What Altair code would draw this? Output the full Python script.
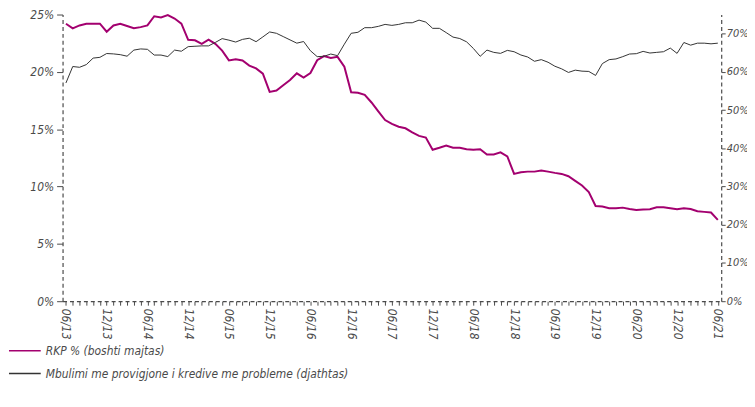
import altair as alt
import pandas as pd

# RKP % (left axis), monthly 06/2013 - 06/2021
rkp = [24.2, 23.8, 24.05, 24.2, 24.2, 24.2, 23.5, 24.05, 24.2, 24.0, 23.8, 23.9, 24.05, 24.85, 24.75,
       24.95, 24.65, 24.2, 22.8, 22.75, 22.45, 22.8, 22.45, 21.85, 21.0, 21.1, 21.0, 20.55, 20.3,
       19.85, 18.25, 18.37, 18.83, 19.29, 19.87, 19.5, 19.9, 21.02, 21.37, 21.22, 21.31, 20.45, 18.22,
       18.17, 17.99,
       17.33, 16.55, 15.80, 15.46, 15.22, 15.08, 14.73, 14.42, 14.27, 13.21, 13.38, 13.58, 13.38, 13.38,
       13.26, 13.21, 13.26, 12.80, 12.80, 12.98, 12.63,
       11.1, 11.25, 11.30, 11.30, 11.39, 11.30, 11.19, 11.10, 10.90, 10.50, 10.09, 9.52, 8.30, 8.25,
       8.10, 8.10, 8.16, 8.04, 7.96, 7.99, 8.02, 8.19, 8.19, 8.10, 8.02, 8.10, 8.04, 7.84, 7.79, 7.73, 7.09]

# Coverage with provisions of NPLs (right axis)
mbulimi = [57.1, 61.4, 61.2, 61.9, 63.6, 63.8, 64.8, 64.7, 64.5, 64.1, 65.7, 66.0, 65.9, 64.4, 64.4,
           64.0, 65.7, 65.4, 66.6, 66.7, 66.8, 66.8, 67.7, 68.7, 68.3, 67.8, 68.5, 68.8, 67.9,
           69.15, 70.44, 70.09, 69.23, 68.37, 67.51, 67.94, 65.53, 63.98, 64.07, 64.67, 64.24, 67.25,
           70.09, 70.35, 71.56, 71.56, 71.90, 72.42, 72.16, 72.42, 72.85, 72.85, 73.54, 73.02, 71.39,
           71.39, 70.27,
           69.1, 68.72, 67.86, 66.13, 64.07, 65.70, 65.10, 64.84, 65.62, 65.27, 64.41, 63.89, 62.77,
           63.20, 62.52, 61.48, 60.79, 59.85, 60.45, 60.19, 60.11, 59.07, 62.17, 63.20, 63.38, 63.98,
           64.67, 64.76, 65.36, 64.93, 65.10, 65.27, 66.22, 64.84, 67.68, 66.99, 67.51, 67.51, 67.34,
           67.51]

tick_labels = ["06/13", "12/13", "06/14", "12/14", "06/15", "12/15", "06/16", "12/16", "06/17",
               "12/17", "06/18", "12/18", "06/19", "12/19", "06/20", "12/20", "06/21"]

series_names = ["RKP % (boshti majtas)",
                "Mbulimi me provigjone i kredive me probleme (djathtas)"]
series_colors = ["#A3006F", "#333333"]
series_widths = [2.0, 1.0]

n = len(rkp)
df = pd.DataFrame({
    "i": list(range(n)) * 2,
    "value": rkp + mbulimi,
    "series": [series_names[0]] * n + [series_names[1]] * n,
})

FONT = "Liberation Sans Narrow, DejaVu Sans Condensed, sans-serif"
GREY = "#4a4a4a"

labels_js = "[" + ",".join("'" + t + "'" for t in tick_labels) + "]"

x_enc = alt.X(
    "i:Q",
    scale=alt.Scale(domain=[-0.5, n - 0.5], nice=False, zero=False),
    axis=alt.Axis(
        values=list(range(n)),
        labelExpr=f"datum.value % 6 == 0 ? {labels_js}[datum.value / 6] : ''",
        labelAngle=90, labelAlign="left", labelBaseline="middle",
        labelOverlap=False, labelPadding=3, tickSize=4, tickColor=GREY,
        domainDash=[4, 3], domainColor=GREY, domainWidth=1.2,
        grid=False, title=None,
    ),
)

color_enc = alt.Color(
    "series:N",
    scale=alt.Scale(domain=series_names, range=series_colors),
    legend=alt.Legend(
        title=None, orient="none", legendX=-55, legendY=322,
        symbolType="stroke", symbolSize=1024, symbolStrokeWidth=1.5,
        labelFontSize=12, labelFont=FONT, labelFontStyle="italic", labelColor=GREY,
        labelLimit=400, rowPadding=-2, padding=0,
    ),
)

left = alt.Chart(df).transform_filter(
    alt.datum.series == series_names[0]
).mark_line(strokeWidth=series_widths[0]).encode(
    x=x_enc,
    y=alt.Y(
        "value:Q",
        scale=alt.Scale(domain=[0, 25], nice=False),
        axis=alt.Axis(
            values=[0, 5, 10, 15, 20, 25], labelExpr="datum.value + '%'",
            orient="left", grid=False, title=None, tickSize=6, tickColor=GREY,
            labelPadding=3, domainDash=[4, 3], domainColor=GREY, domainWidth=1.2,
        ),
    ),
    color=color_enc,
)

right = alt.Chart(df).transform_filter(
    alt.datum.series == series_names[1]
).mark_line(strokeWidth=series_widths[1]).encode(
    x=x_enc,
    y=alt.Y(
        "value:Q",
        scale=alt.Scale(domain=[0, 75], nice=False),
        axis=alt.Axis(
            values=[0, 10, 20, 30, 40, 50, 60, 70], labelExpr="datum.value + '%'",
            orient="right", grid=False, title=None, tickSize=4, tickColor=GREY,
            labelPadding=1, labelFontSize=11,
            domainDash=[4, 3], domainColor=GREY, domainWidth=1.2,
        ),
    ),
    color=color_enc,
)

chart = alt.layer(left, right).resolve_scale(y="independent").properties(
    width=664, height=289,
    autosize=alt.AutoSizeParams(type="none"),
    padding={"left": 55, "top": 5, "right": 26, "bottom": 97},
).configure_view(stroke=None).configure_axis(
    labelFont=FONT, labelFontStyle="italic", labelFontSize=12, labelColor=GREY,
)

chart.save("out.html", embed_options={"renderer": "svg", "actions": False})
